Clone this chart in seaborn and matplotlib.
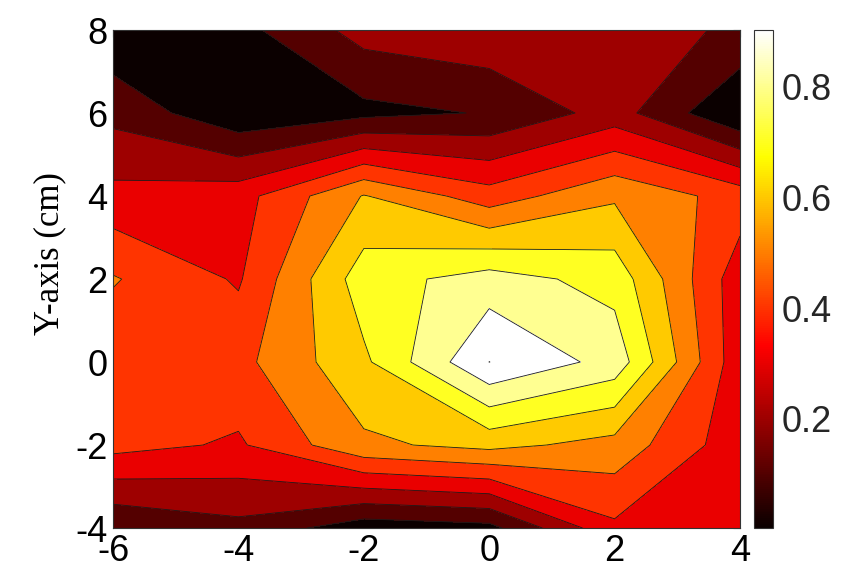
import numpy as np
import matplotlib
matplotlib.use("Agg")
import matplotlib.pyplot as plt
from matplotlib.colors import Normalize
from matplotlib.cm import ScalarMappable
import seaborn as sns

# grid positions (cm)
x_cm = [-6, -4, -2, 0, 2, 4]
y_cm = [-4, -2, 0, 2, 4, 6, 8]

# measured values, one list per grid row (y = -4 ... 8), columns follow x_cm
row_m4 = [0.097, 0.156, 0.039, 0.063, 0.344, 0.317]
row_m2 = [0.394, 0.350, 0.525, 0.570, 0.510, 0.306]
row_0 = [0.389, 0.425, 0.615, 0.903, 0.779, 0.301]
row_2 = [0.460, 0.352, 0.682, 0.763, 0.689, 0.307]
row_4 = [0.300, 0.326, 0.548, 0.403, 0.528, 0.414]
row_6 = [0.155, 0.020, 0.066, 0.098, 0.221, 0.002]
row_8 = [0.018, 0.063, 0.217, 0.255, 0.220, 0.169]

x_ticks = [-6, -4, -2, 0, 2, 4]
y_ticks = [-4, -2, 0, 2, 4, 6, 8]
cbar_ticks = [0.2, 0.4, 0.6, 0.8]

sns.set_theme(style="white")
plt.rcParams["font.family"] = ["Liberation Sans", "DejaVu Sans"]
plt.rcParams["axes.unicode_minus"] = False

Z = np.array([row_m4, row_m2, row_0, row_2, row_4, row_6, row_8])
X, Y = np.meshgrid(x_cm, y_cm)

# 10 bands between min and max, coloured like matlab's hot map
levels = np.linspace(Z.min(), Z.max(), 11)
hot = sns.color_palette("hot", as_cmap=True)
band_colors = [hot(k / 9) for k in range(10)]

fig = plt.figure(figsize=(8.41, 5.76), dpi=100)
ax = fig.add_axes([0.1344, 0.0833, 0.7455, 0.8646])

ax.contourf(X, Y, Z, levels=levels, colors=band_colors)
ax.contour(X, Y, Z, levels=levels[1:-1], colors="#1a1a1a", linewidths=0.6)
# tiny ring at the peak
ax.contour(X, Y, Z, levels=[Z.max() - 0.0008], colors="#555555", linewidths=0.6)

ax.set_xlim(-6, 4)
ax.set_ylim(-4, 8)
ax.set_xticks(x_ticks)
ax.set_yticks(y_ticks)
ax.tick_params(direction="in", length=5, width=0.8, color="#333333",
               top=True, right=True, labelsize=26, labelcolor="black")
ax.tick_params(axis="x", pad=4)
ax.tick_params(axis="y", pad=4)
for sp in ax.spines.values():
    sp.set_color("#333333")
    sp.set_linewidth(0.8)

ax.set_ylabel("Y-axis (cm)", family="Liberation Serif", fontsize=25, color="black")
ax.yaxis.set_label_coords(-0.075, 0.552)

# colorbar
cax = fig.add_axes([0.8966, 0.0833, 0.0226, 0.8646])
sm = ScalarMappable(norm=Normalize(Z.min(), Z.max()), cmap=hot)
cb = fig.colorbar(sm, cax=cax, ticks=cbar_ticks)
cb.outline.set_edgecolor("#333333")
cb.outline.set_linewidth(0.8)
cax.tick_params(direction="in", length=4, width=0.8, color="#333333",
                left=True, right=True, labelsize=26, pad=6)

fig.savefig("out.png", dpi=100)
